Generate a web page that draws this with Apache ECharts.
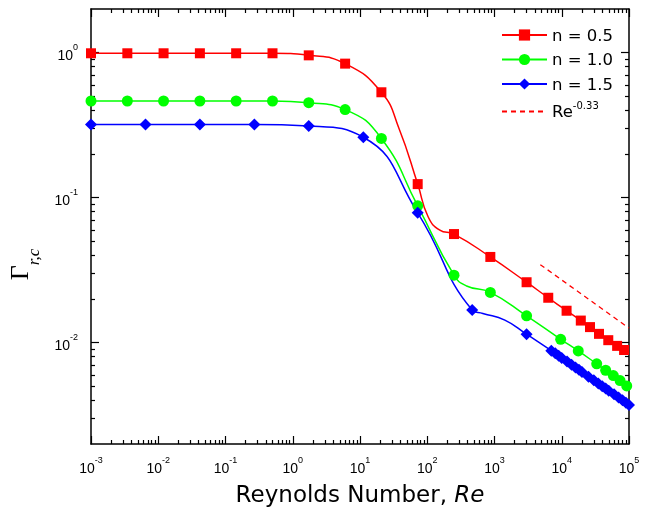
<!DOCTYPE html>
<html><head><meta charset="utf-8">
<script src="https://cdn.jsdelivr.net/npm/echarts@6/dist/echarts.min.js"></script>
<style>html,body{margin:0;padding:0;background:#fff}#c{width:662px;height:509px}</style>
</head><body><div id="c"></div>
<script>
// ---- data (Re, Gamma) ----
const reMarkRed = [0.001, 0.00347, 0.0120, 0.0416, 0.144, 0.500, 1.73, 6.01, 20.8, 72.1, 250, 867, 3000, 6300, 11800, 19200, 26300, 35800, 49200, 66600, 84500];
const gammaMarkRed = [0.99, 0.99, 0.99, 0.99, 0.99, 0.99, 0.958, 0.84, 0.533, 0.124, 0.0561, 0.0390, 0.0261, 0.0204, 0.0166, 0.0142, 0.0128, 0.0115, 0.0104, 0.0095, 0.0089];
const reCurveRed = [38, 103, 154, 100000];
const gammaCurveRed = [0.30, 0.0738, 0.0597, 0.0085];

const reMarkGreen = [0.001, 0.00347, 0.0120, 0.0416, 0.144, 0.500, 1.73, 6.01, 20.8, 72.1, 250, 867, 3000, 9640, 17600, 33100, 45000, 58500, 73700, 92500];
const gammaMarkGreen = [0.464, 0.464, 0.464, 0.464, 0.464, 0.464, 0.452, 0.405, 0.256, 0.0878, 0.0292, 0.0222, 0.0153, 0.01055, 0.00877, 0.00714, 0.00645, 0.00593, 0.00548, 0.00503];
const reCurveGreen = [385, 100000];
const gammaCurveGreen = [0.0246, 0.0049];

const reMarkBlue = [0.001, 0.00646, 0.0416, 0.269, 1.73, 11.2, 72.1, 466, 3000, 7000, 8000, 9000, 10000, 12000, 14000, 16000, 18000, 20000, 25000, 30000, 35000, 40000, 45000, 50000, 60000, 70000, 80000, 90000, 100000];
const gammaMarkBlue = [0.319, 0.319, 0.319, 0.319, 0.312, 0.261, 0.0786, 0.0168, 0.01143, 0.00881, 0.00844, 0.00812, 0.00785, 0.00740, 0.00705, 0.00675, 0.00649, 0.00627, 0.00583, 0.00550, 0.00523, 0.00501, 0.00483, 0.00466, 0.00440, 0.00418, 0.00400, 0.00385, 0.00372];
const reCurveBlue = [671, 1425];
const gammaCurveBlue = [0.0159, 0.0143];

const reDash = [4800, 100000];
const gammaDash = [0.0345, 0.0126];

const seriesNames = ['n = 0.5', 'n = 1.0', 'n = 1.5', 'Re-0.33'];
const xTickExp = [-3, -2, -1, 0, 1, 2, 3, 4, 5];
const yTickExp = [-2, -1, 0];
const xRange = [0.001, 100000];
const yRange = [0.002, 2];

// ---- helpers ----
const L = Math.log10;
function build(reM, gM, reC, gC) {
  const pts = reM.map((r, i) => ({ value: [L(r), L(gM[i])] }))
    .concat(reC.map((r, i) => ({ value: [L(r), L(gC[i])], symbol: 'none' })));
  pts.sort((a, b) => a.value[0] - b.value[0]);
  return pts;
}
function minors(lo, hi) {
  const out = [];
  for (let e = Math.floor(lo) - 1; e <= Math.ceil(hi); e++) {
    for (let k = 2; k <= 9; k++) {
      const v = e + L(k);
      if (v > lo + 1e-6 && v < hi - 1e-6) out.push(v);
    }
  }
  return out;
}
const FONT = '"Liberation Sans", Arial, sans-serif';
const WFONT = '"DejaVu Sans", sans-serif';
const SERIF = '"Liberation Serif", "Times New Roman", serif';
const xMin = L(xRange[0]), xMax = L(xRange[1]);
const yMin = L(yRange[0]), yMax = L(yRange[1]);
const xMinor = minors(xMin, xMax), yMinor = minors(yMin, yMax);
const supRich = {
  b: { fontSize: 14, fontFamily: FONT, color: '#000', lineHeight: 20, verticalAlign: 'bottom' },
  s: { fontSize: 9, fontFamily: FONT, color: '#000', lineHeight: 10, verticalAlign: 'top' }
};
const fmtPow = v => '{b|10}{s|' + Math.round(v) + '}';

function xAx(grid, pos, major, labels) {
  return {
    type: 'value', gridIndex: grid, position: pos, min: xMin, max: xMax,
    axisLine: { show: major, onZero: false, lineStyle: { color: '#000', width: 1.5 } },
    axisTick: { show: true, inside: true, length: major ? 8 : 4, customValues: major ? xTickExp : xMinor, lineStyle: { color: '#000', width: 1.2 } },
    axisLabel: { show: labels, customValues: xTickExp, formatter: fmtPow, margin: 12, rich: supRich },
    splitLine: { show: false },
    name: labels ? '{n|Reynolds Number, }{i|Re}' : '',
    nameLocation: 'middle', nameGap: 41,
    nameTextStyle: { rich: { n: { fontSize: 23, fontFamily: WFONT, color: '#000' }, i: { fontSize: 23, fontFamily: WFONT, fontStyle: 'italic', color: '#000' } } }
  };
}
function yAx(grid, pos, major, labels) {
  return {
    type: 'value', gridIndex: grid, position: pos, min: yMin, max: yMax,
    axisLine: { show: major, onZero: false, lineStyle: { color: '#000', width: 1.5 } },
    axisTick: { show: true, inside: true, length: major ? 8 : 4, customValues: major ? yTickExp : yMinor, lineStyle: { color: '#000', width: 1.2 } },
    axisLabel: { show: labels, customValues: yTickExp, formatter: fmtPow, margin: 13, rich: supRich },
    splitLine: { show: false },
    name: labels ? '{g|Γ}{s|r,c}' : '',
    nameLocation: 'middle', nameGap: 43, nameRotate: 90,
    nameTextStyle: { padding: [0, 76, 0, 0], rich: {
      g: { fontSize: 26, fontFamily: SERIF, color: '#000', lineHeight: 35, verticalAlign: 'top' },
      s: { fontSize: 17, fontFamily: SERIF, fontStyle: 'italic', color: '#000', lineHeight: 35, verticalAlign: 'bottom' }
    } }
  };
}
const gridBox = { left: 91, right: 33, top: 9, bottom: 65, outerBoundsMode: 'none' };

const chart = echarts.init(document.getElementById('c'), null, { renderer: 'canvas' });
chart.setOption({
  animation: false,
  backgroundColor: '#fff',
  grid: [gridBox, gridBox, gridBox, gridBox],
  xAxis: [xAx(0, 'bottom', true, true), xAx(1, 'bottom', false, false), xAx(2, 'top', true, false), xAx(3, 'top', false, false)],
  yAxis: [yAx(0, 'left', true, true), yAx(1, 'left', false, false), yAx(2, 'right', true, false), yAx(3, 'right', false, false)],
  legend: {
    orient: 'vertical', left: 501, top: 28, padding: 0,
    itemWidth: 45, itemHeight: 14, itemGap: 7.5,
    data: [seriesNames[0], seriesNames[1], seriesNames[2], { name: seriesNames[3], itemStyle: { opacity: 0 } }],
    formatter: n => n.indexOf('Re') === 0 ? '{t|Re}{s|-0.33}' : '{t|' + n + '}',
    textStyle: { color: '#000', fontFamily: WFONT, fontSize: 16.5, rich: {
      t: { fontSize: 16.5, fontFamily: WFONT, color: '#000', lineHeight: 20, verticalAlign: 'bottom' },
      s: { fontSize: 10, fontFamily: WFONT, color: '#000', lineHeight: 11, verticalAlign: 'top' }
    } }
  },
  series: [
    { name: seriesNames[0], type: 'line', xAxisIndex: 0, yAxisIndex: 0, smooth: 0.5,
      symbol: 'rect', symbolSize: 10, showAllSymbol: true, color: '#ff0000',
      lineStyle: { width: 1.5, color: '#ff0000' }, itemStyle: { color: '#ff0000' },
      data: build(reMarkRed, gammaMarkRed, reCurveRed, gammaCurveRed), z: 3 },
    { name: seriesNames[1], type: 'line', xAxisIndex: 0, yAxisIndex: 0, smooth: 0.5,
      symbol: 'circle', symbolSize: 11, showAllSymbol: true, color: '#00ff00',
      lineStyle: { width: 1.5, color: '#00ff00' }, itemStyle: { color: '#00ff00' },
      data: build(reMarkGreen, gammaMarkGreen, reCurveGreen, gammaCurveGreen), z: 3 },
    { name: seriesNames[2], type: 'line', xAxisIndex: 0, yAxisIndex: 0, smooth: 0.5,
      symbol: 'diamond', symbolSize: 12, showAllSymbol: true, color: '#0000ff',
      lineStyle: { width: 1.5, color: '#0000ff' }, itemStyle: { color: '#0000ff' },
      data: build(reMarkBlue, gammaMarkBlue, reCurveBlue, gammaCurveBlue), z: 3 },
    { name: seriesNames[3], type: 'line', xAxisIndex: 0, yAxisIndex: 0, symbol: 'none', color: '#ff0000',
      lineStyle: { width: 1.3, color: '#ff0000', type: [5, 4] },
      data: reDash.map((r, i) => [L(r), L(gammaDash[i])]), z: 2 }
  ]
});
</script></body></html>
